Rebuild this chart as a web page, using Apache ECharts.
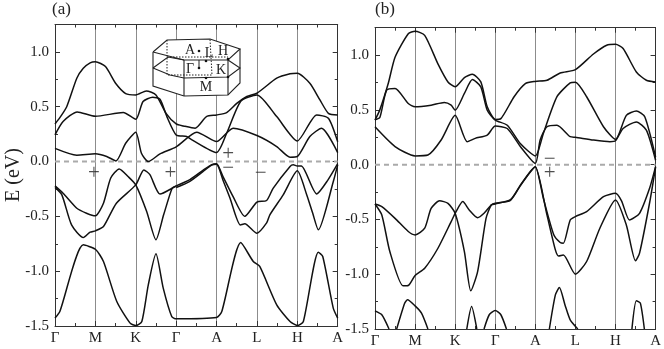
<!DOCTYPE html>
<html><head><meta charset="utf-8">
<style>html,body{margin:0;padding:0;background:#fff}#c{width:664px;height:349px}</style>
<script src="https://cdn.jsdelivr.net/npm/echarts@6/dist/echarts.min.js"></script>
</head><body><div id="c"></div>
<script>
const tickLabels = ['Γ','M','K','Γ','A','L','H','A'];
const yTicks = {min:-1.5,max:1.25,step:0.5};

const a1 = [[0,.343],[.12,.4],[.29,.5],[.54,.76],[.7,.85],[.87,.9],[1,.91],[1.25,.866],[1.5,.714],[1.75,.62],[2,.608],[2.26,.644],[2.5,.608],[2.75,.44],[3,.343],[3.18,.325],[3.47,.304],[3.75,.41],[4,.425],[4.25,.447],[4.5,.53],[4.75,.593],[5,.623],[5.49,.76],[5.82,.8],[6,.805],[6.31,.714],[6.56,.562],[6.77,.44],[7,.425]];
const a2 = [[0,.243],[.2,.365],[.55,.453],[1,.413],[1.69,.447],[2,.386],[2.18,.547],[2.42,.587],[2.6,.568],[2.77,.41],[3,.243],[3.26,.228],[3.38,.2],[4,.082],[4.25,.258],[4.6,.55],[5,.608],[5.49,.41],[6,.188],[6.48,.425],[6.77,.395],[7,.18]];
const a3 = [[0,.12],[.54,.058],[1,.07],[1.28,.046],[1.51,.006],[1.75,.167],[2,.267],[2.14,.076],[2.31,0],[2.6,.07],[3,.134],[3.51,.267],[4,.182],[4.41,.304],[5,.237],[5.49,.137],[5.82,.04],[6,.046],[6.31,.228],[6.6,.304],[7,.082]];
const a4 = [[0,-.222],[.2,-.289],[.54,-.426],[.78,-.471],[1,-.495],[1.2,-.38],[1.38,-.15],[1.59,-.067],[1.81,-.137],[2,-.213],[2.27,-.456],[2.5,-.714],[2.69,-.486],[2.9,-.243],[3,-.222]];
const a5 = [[0,-.237],[.17,-.304],[.41,-.578],[.7,-.693],[.87,-.644],[1,-.632],[1.2,-.593],[1.52,-.38],[2,-.213],[2.2,-.076],[2.35,-.12],[2.6,-.297],[2.97,-.23],[3,-.225]];
const a6 = [[3,-.222],[3.34,-.165],[3.67,-.078],[3.88,-.028],[4,-.02],[4.16,-.137],[4.41,-.32],[4.7,-.5],[5,-.37],[5.24,-.355],[5.4,-.245],[5.82,-.045],[5.9,-.03],[6,-.04],[6.1,-.04],[6.48,-.295],[6.76,-.167],[7,-.02]];
const a7 = [[3,-.237],[3.34,-.18],[3.67,-.09],[3.88,-.033],[4,-.025],[4.16,-.17],[4.33,-.33],[4.59,-.578],[4.7,-.568],[5,-.654],[5.24,-.56],[5.32,-.486],[5.65,-.304],[6,-.085],[6.23,-.3],[6.38,-.47],[6.52,-.623],[6.9,-.17],[7,-.03]];
const a8 = [[0,-1.428],[.12,-1.368],[.7,-.76],[1,-.8],[1.2,-.912],[1.53,-1.277],[1.86,-1.474],[2,-1.495],[2.15,-1.459],[2.31,-1.125],[2.5,-.842],[2.68,-1.155],[2.89,-1.414],[3,-1.435],[4,-1.423],[4.13,-1.368],[4.6,-.739],[4.91,-.912],[5.07,-.957],[5.49,-1.307],[5.82,-1.459],[6,-1.495],[6.15,-1.459],[6.52,-.827],[6.63,-.866],[6.89,-1.337],[7,-1.428]];

const b1 = [[0,.407],[.12,.5],[.33,.74],[.5,.98],[.83,1.195],[1,1.217],[1.24,1.18],[1.57,.92],[1.82,.755],[2,.71],[2.23,.795],[2.43,.825],[2.64,.755],[2.8,.528],[3,.413],[3.14,.42],[3.47,.62],[3.75,.74],[4,.76],[4.29,.77],[4.62,.837],[5,.867],[5.45,1.01],[5.78,1.09],[6,1.098],[6.19,1.06],[6.52,.846],[6.77,.77],[7,.755]];
const b2 = [[0,.41],[.12,.43],[.29,.68],[.5,.695],[.83,.558],[1,.528],[1.4,.543],[1.73,.567],[1.9,.543],[2,.497],[2.23,.65],[2.43,.777],[2.64,.71],[2.8,.497],[3,.407],[3.3,.36],[3.63,.19],[4,.08],[4.2,.285],[4.54,.62],[4.87,.746],[5,.752],[5.28,.62],[5.7,.346],[6,.23],[6.27,.45],[6.52,.49],[6.73,.437],[7,.07]];
const b3 = [[0,.345],[.5,.165],[1,.08],[1.32,.088],[1.65,.225],[2,.45],[2.3,.21],[2.5,.24],[2.8,.27],[3,.352],[3.3,.33],[3.63,.164],[4,.012],[4.12,.225],[4.29,.346],[4.54,.36],[4.87,.255],[5,.25],[5.45,.225],[5.86,.21],[6,.218],[6.19,.33],[6.52,.39],[6.77,.315],[7,.04]];
const b4 = [[0,-.359],[.17,-.383],[.5,-.49],[.83,-.61],[1,-.641],[1.24,-.58],[1.4,-.4],[1.61,-.33],[1.82,-.353],[2,-.444],[2.23,-.793],[2.39,-1.152],[2.56,-.976],[2.77,-.49],[2.9,-.368],[3,-.359],[3.38,-.32],[3.63,-.185],[3.88,-.06],[4,-.018],[4.2,-.307],[4.46,-.64],[4.62,-.711],[4.7,-.717],[4.87,-.505],[5,-.474],[5.28,-.428],[5.7,-.292],[6,-.261],[6.15,-.33],[6.35,-.505],[6.6,-.444],[6.85,-.216],[7,-.018]];
const b5 = [[0,-.359],[.17,-.459],[.37,-.793],[.7,-1.106],[.83,-1.103],[1,-1.012],[1.24,-.945],[1.57,-.763],[1.9,-.52],[2,-.444],[2.19,-.337],[2.35,-.413],[2.56,-.484],[2.72,-.444],[2.9,-.368],[3,-.353],[3.38,-.325],[3.63,-.19],[3.88,-.065],[4,-.022],[4.29,-.459],[4.5,-.778],[4.58,-.833],[4.7,-.824],[5,-1],[5.28,-.884],[5.61,-.58],[6,-.322],[6.27,-.55],[6.5,-.878],[6.6,-.808],[6.85,-.35],[7,-.022]];
const b6 = [[0,-1.334],[.17,-1.37],[.35,-1.5]];
const b7 = [[.54,-1.5],[.74,-1.264],[.81,-1.234],[1,-1.289],[1.16,-1.356],[1.32,-1.5]];
const b8 = [[2.29,-1.5],[2.41,-1.295],[2.54,-1.5]];
const b9 = [[2.72,-1.5],[2.85,-1.37],[3,-1.331],[3.14,-1.37],[3.28,-1.5]];
const b10 = [[4.35,-1.5],[4.5,-1.189],[4.6,-1.121],[4.74,-1.28],[4.87,-1.416],[5.06,-1.5]];
const b11 = [[6.41,-1.5],[6.52,-1.243],[6.62,-1.264],[6.72,-1.5]];

const signsA = [[.965,-.112,'+'],[2.86,-.112,'+'],[4.29,.061,'+'],[4.29,-.064,'−'],[5.09,-.106,'−']];
const signsB = [[4.36,.049,'−'],[4.36,-.085,'+']];
const zeroLine = [[0,0],[7,0]];

const panelA = [a1,a2,a3,a4,a5,a6,a7,a8];
const panelB = [b1,b2,b3,b4,b5,b6,b7,b8,b9,b10,b11];

const serif = '"Liberation Serif","Times New Roman",serif';
const axisLineStyle = {color:'#333',width:1};

function xAxes(gridIndex){
  const base = {type:'value',gridIndex,min:0,max:7,interval:1,
    axisLine:{show:true,onZero:false,lineStyle:axisLineStyle},
    axisTick:{show:true,inside:true,length:5,lineStyle:{color:'#333'}},
    minorTick:{show:true,splitNumber:2,length:3,lineStyle:{color:'#333'}},
    minorSplitLine:{show:false}};
  return [
    Object.assign({},base,{position:'bottom',
      axisLabel:{show:true,margin:5,color:'#222',fontFamily:serif,fontSize:15,formatter:v=>tickLabels[Math.round(v)]},
      splitLine:{show:true,lineStyle:{color:'#8c8c8c',width:1}}}),
    Object.assign({},base,{position:'top',axisLabel:{show:false},splitLine:{show:false}})
  ];
}
function yAxes(gridIndex){
  const base = {type:'value',gridIndex,min:yTicks.min,max:yTicks.max,interval:yTicks.step,
    axisLine:{show:true,onZero:false,lineStyle:axisLineStyle},
    axisTick:{show:true,inside:true,length:5,lineStyle:{color:'#333'}},
    minorTick:{show:true,splitNumber:2,length:3,lineStyle:{color:'#333'}},
    splitLine:{show:false}};
  return [
    Object.assign({},base,{position:'left',
      axisLabel:{show:true,margin:6,color:'#222',fontFamily:serif,fontSize:15,showMaxLabel:false,formatter:v=>v.toFixed(1)}}),
    Object.assign({},base,{position:'right',axisLabel:{show:false}})
  ];
}
function bandSeries(list,axisIdx){
  return list.map(d=>({type:'line',data:d,xAxisIndex:axisIdx,yAxisIndex:axisIdx,smooth:0.22,
    showSymbol:false,symbol:'none',silent:true,z:4,lineStyle:{color:'#111',width:1.5}}));
}
function zeroSeries(axisIdx){
  return {type:'line',data:zeroLine,xAxisIndex:axisIdx,yAxisIndex:axisIdx,showSymbol:false,symbol:'none',silent:true,z:3,
    lineStyle:{color:'#aaa',width:2,type:[5,4]}};
}
function signSeries(d,axisIdx){
  return {type:'scatter',data:d,xAxisIndex:axisIdx,yAxisIndex:axisIdx,symbolSize:1,itemStyle:{color:'transparent'},silent:true,z:5,
    label:{show:true,position:'inside',formatter:p=>p.value[2],fontFamily:serif,fontSize:21,color:'#222'}};
}

// Brillouin-zone inset (a diagram, not data)
const insetOutline = [[153,52],[167,40],[210,39],[240,49],[240,83],[228,95],[184,96],[153,86]];
const insetSolid = [
  [[153,52],[167,40],[210,39],[240,49],[228,60],[184,60],[153,52]],
  [[153,52],[153,86],[184,96],[228,95],[240,83],[240,49]],
  [[184,60],[184,96]],[[228,60],[228,95]],
  [[153,68],[168,57],[184,60]],
  [[153,68],[170,75],[184,78],[228,77],[240,68],[228,60]]
];
const insetDashed = [[[167,40],[167,75],[212,75],[210,39]],[[167,57],[228,57]]];
const insetDots = [[199,51],[199,68],[206,61],[206,78],[228,59],[228,77]];
const insetText = [['A',190,50],['L',209,53],['H',223,51],['Γ',190,69],['K',221,70],['M',206,87]];

const graphic = [
  {type:'text',left:52,top:1,style:{text:'(a)',font:'17px '+serif,fill:'#222'}},
  {type:'text',left:375,top:1,style:{text:'(b)',font:'17px '+serif,fill:'#222'}},
  {type:'text',x:14,y:175,rotation:Math.PI/2,style:{text:'E (eV)',font:'20px '+serif,fill:'#222',align:'center',verticalAlign:'middle'}},
  {type:'polygon',z:10,shape:{points:insetOutline},style:{fill:'#fff',stroke:'none'}},
  ...insetDashed.map(p=>({type:'polyline',z:11,shape:{points:p},style:{fill:'none',stroke:'#222',lineWidth:1,lineDash:[1.5,1.5]}})),
  ...insetSolid.map(p=>({type:'polyline',z:11,shape:{points:p},style:{fill:'none',stroke:'#222',lineWidth:1.1}})),
  {type:'line',z:11,shape:{x1:199,y1:60,x2:199,y2:68},style:{stroke:'#222',lineWidth:1}},
  ...insetDots.map(p=>({type:'circle',z:12,shape:{cx:p[0],cy:p[1],r:1.3},style:{fill:'#111'}})),
  ...insetText.map(t=>({type:'text',z:12,x:t[1],y:t[2],style:{text:t[0],font:'14px '+serif,fill:'#222',align:'center',verticalAlign:'middle'}}))
];

const chart = echarts.init(document.getElementById('c'),null,{renderer:'canvas'});
chart.setOption({
  animation:false,backgroundColor:'#fff',
  grid:[{left:55,top:24.5,width:282.7,height:301.5},{left:375,top:27.7,width:282.7,height:301.6}],
  xAxis:[...xAxes(0),...xAxes(1)],
  yAxis:[...yAxes(0),...yAxes(1)],
  graphic,
  series:[zeroSeries(0),zeroSeries(2),...bandSeries(panelA,0),...bandSeries(panelB,2),signSeries(signsA,0),signSeries(signsB,2)]
});
</script></body></html>
